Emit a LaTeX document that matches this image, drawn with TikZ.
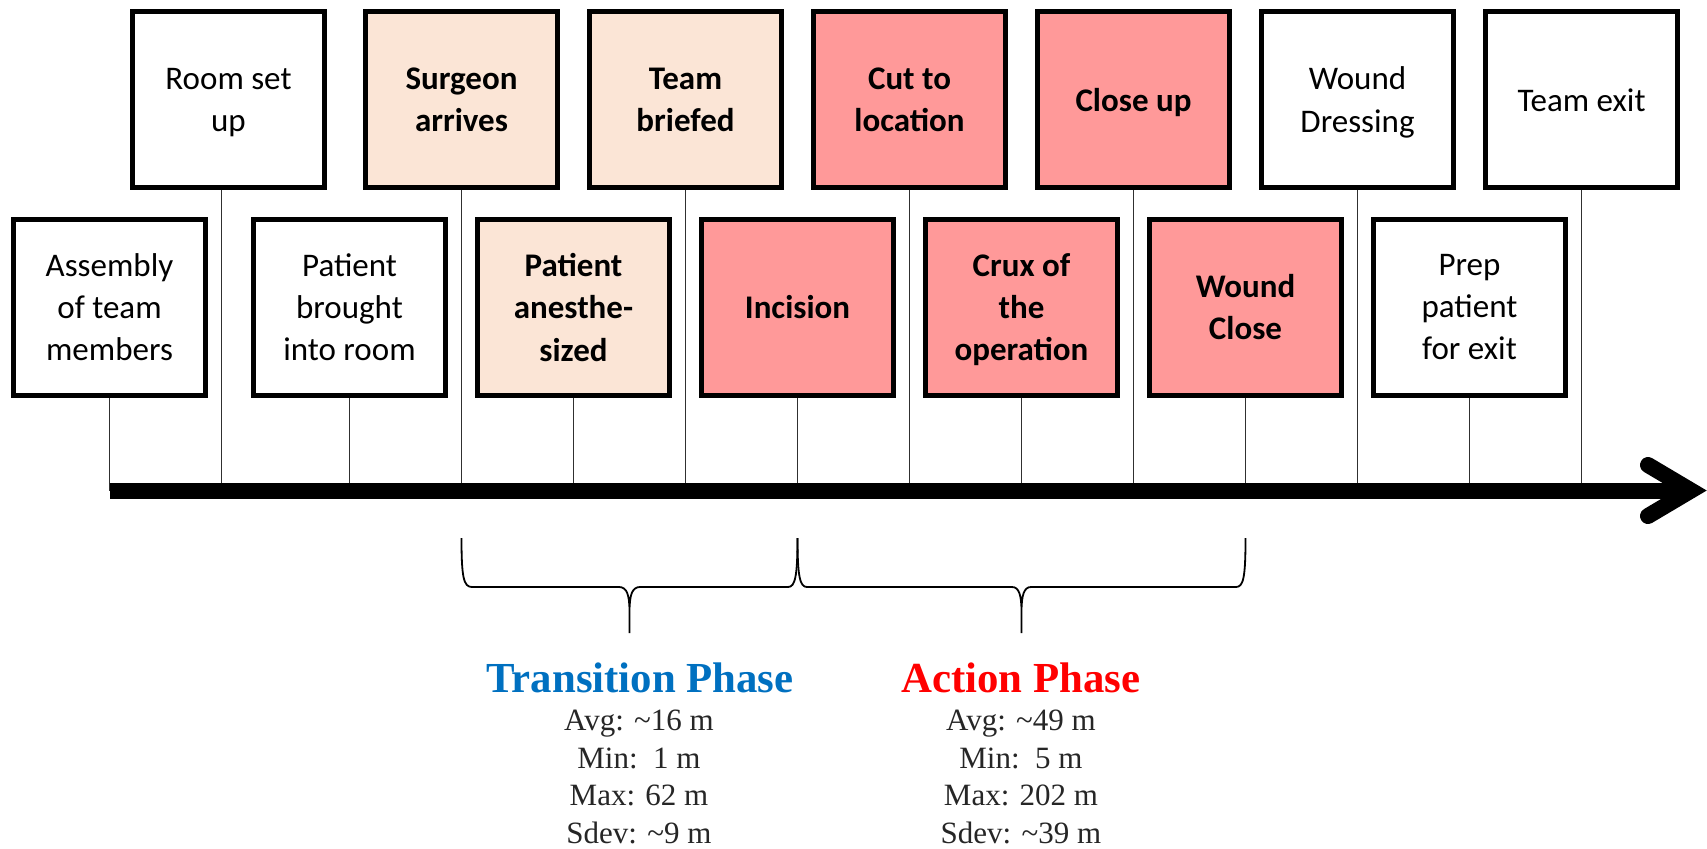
\documentclass[tikz,border=0pt]{standalone}
\usepackage{fontspec}
\setmainfont{Carlito}
\newfontfamily\statfont{Liberation Serif}
\definecolor{peach}{HTML}{FBE5D6}
\definecolor{pinkbox}{HTML}{FF9999}
\definecolor{tblue}{HTML}{0070C0}
\definecolor{tred}{HTML}{FF0000}
\definecolor{statgray}{HTML}{262626}
\definecolor{stemgray}{HTML}{303030}
\begin{document}
\begin{tikzpicture}[x=0.5pt,y=-0.5pt,
  evbox/.style={draw=black, line width=2.5pt, minimum width=96pt, minimum height=88pt,
    inner sep=0pt, align=center, text depth=-0.6pt, font=\fontsize{16.5}{21.2}\selectfont},
  plainbox/.style={evbox, fill=white},
  transbox/.style={evbox, fill=peach, font=\fontsize{16.5}{21.2}\selectfont\bfseries},
  actbox/.style={evbox, fill=pinkbox, font=\fontsize{16.5}{21.2}\selectfont\bfseries},
  stem/.style={draw=stemgray, line width=0.7pt},
  axisline/.style={draw=black, line width=8pt, line cap=butt},
  barb/.style={draw=black, line width=8pt, line cap=round, line join=miter},
  bracestyle/.style={draw=black, line width=0.9pt},
  phasetitle/.style={anchor=base, inner sep=0pt, font=\statfont\fontsize{21.4}{25}\selectfont\bfseries},
  statline/.style={anchor=base, inner sep=0pt, text=statgray, font=\statfont\fontsize{15.5}{18.75}\selectfont}
]
\useasboundingbox (0,0) rectangle (1707,848);

% axis coordinates
\coordinate (ax0) at (109.5,490.5);
\coordinate (tip) at (1691,490.5);
\coordinate (barbU) at (1648,465);
\coordinate (barbL) at (1648,516);

% event boxes
\node[plainbox] (a1) at (109.5,307) {Assembly\\of team\\members};
\node[plainbox] (a2) at (228.5,99.7) {Room set\\up};
\node[plainbox] (a3) at (349.5,307) {Patient\\brought\\into room};
\node[transbox] (a4) at (461.5,99.7) {Surgeon\\arrives};
\node[transbox] (a5) at (573.5,307) {Patient\\anesthe-\\sized};
\node[transbox] (a6) at (685.5,99.7) {Team\\briefed};
\node[actbox] (a7) at (797.5,307) {Incision};
\node[actbox] (a8) at (909.5,99.7) {Cut to\\location};
\node[actbox] (a9) at (1021.5,307) {Crux of\\the\\operation};
\node[actbox] (a10) at (1133.5,99.7) {Close up};
\node[actbox] (a11) at (1245.5,307) {Wound\\Close};
\node[plainbox] (a12) at (1357.5,99.7) {Wound\\Dressing};
\node[plainbox] (a13) at (1469.5,307) {Prep\\patient\\for exit};
\node[plainbox] (a14) at (1581.5,99.7) {Team exit};

% stems
\foreach \n in {1,3,4,5,6,7,8,9,10,11,12,13,14}
  \draw[stem] (a\n.south) -- (a\n.south |- ax0);
\draw[stem] ([xshift=-3.5pt]a2.south) -- ([xshift=-3.5pt]a2.south |- ax0);

% axis with arrow head
\draw[axisline] (ax0) -- (tip);
\draw[barb] (barbU) -- (tip) -- (barbL);

% braces
\draw[bracestyle] (461.5,538) .. controls (461.5,577) and (463.5,587) .. (472,587)
  -- (619,587) .. controls (627,587) and (629.5,595) .. (629.5,612) -- (629.5,633)
  (629.5,612) .. controls (629.5,595) and (632,587) .. (640,587)
  -- (788,587) .. controls (795,587) and (797.5,577) .. (797.5,538);
\draw[bracestyle] (797.5,538) .. controls (797.5,577) and (800,587) .. (807,587)
  -- (1012,587) .. controls (1019,587) and (1021.5,595) .. (1021.5,612) -- (1021.5,633)
  (1021.5,612) .. controls (1021.5,595) and (1024,587) .. (1031,587)
  -- (1236,587) .. controls (1243.5,587) and (1245.5,577) .. (1245.5,538);

% phase titles and statistics
\node[phasetitle, text=tblue] (tp) at (640,692.7) {Transition Phase};
\node[statline] (t1) at (639,730.7) {Avg: \textasciitilde16 m};
\node[statline] (t2) at (639,768.3) {Min:\ \ 1 m};
\node[statline] (t3) at (639,805.7) {Max: 62 m};
\node[statline] (t4) at (639,843.3) {Sdev: \textasciitilde9 m};

\node[phasetitle, text=tred] (ap) at (1021,692.7) {Action Phase};
\node[statline] (s1) at (1021,730.7) {Avg: \textasciitilde49 m};
\node[statline] (s2) at (1021,768.3) {Min:\ \ 5 m};
\node[statline] (s3) at (1021,805.7) {Max: 202 m};
\node[statline] (s4) at (1021,843.3) {Sdev: \textasciitilde39 m};
\end{tikzpicture}
\end{document}
